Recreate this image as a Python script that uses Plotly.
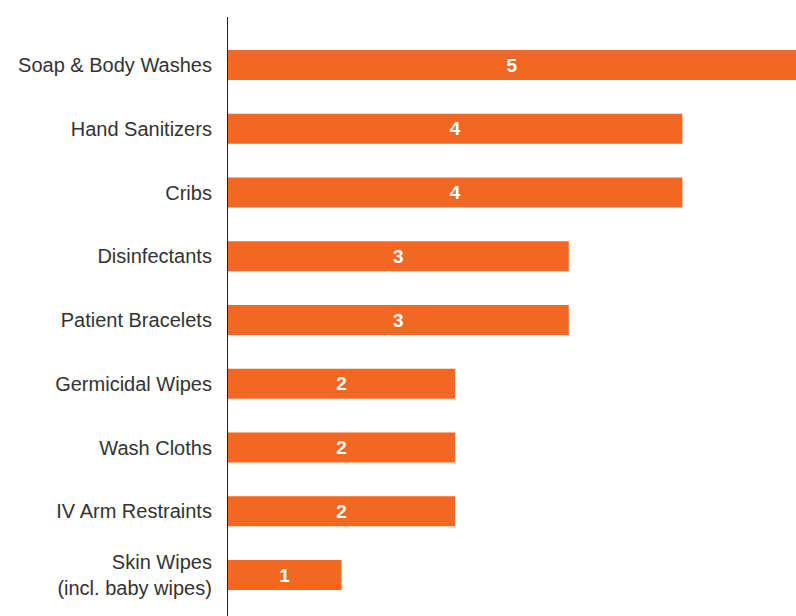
import plotly.graph_objects as go

# Product categories and their counts
categories = [
    "Soap & Body Washes",
    "Hand Sanitizers",
    "Cribs",
    "Disinfectants",
    "Patient Bracelets",
    "Germicidal Wipes",
    "Wash Cloths",
    "IV Arm Restraints",
    "Skin Wipes<br>(incl. baby wipes)",
]
counts = [5, 4, 4, 3, 3, 2, 2, 2, 1]

bar_color = "#F26722"

fig = go.Figure(
    go.Bar(
        x=counts,
        y=categories,
        orientation="h",
        marker=dict(color=bar_color, line=dict(width=0)),
        width=0.47,
        text=[str(v) for v in counts],
        textposition="inside",
        insidetextanchor="middle",
        textangle=0,
        textfont=dict(family="Liberation Sans, Arial, sans-serif", size=19, color="white", weight="bold"),
        cliponaxis=True,
        hoverinfo="skip",
    )
)

fig.update_layout(
    width=796,
    height=616,
    margin=dict(l=228, r=0, t=17, b=0),
    paper_bgcolor="white",
    plot_bgcolor="white",
    showlegend=False,
    uniformtext=dict(minsize=10, mode="show"),
    xaxis=dict(
        range=[0, 5],
        showgrid=False,
        zeroline=False,
        showticklabels=False,
        showline=False,
        fixedrange=True,
    ),
    yaxis=dict(
        type="category",
        categoryorder="array",
        categoryarray=categories,
        range=[8.643, -0.753],
        showgrid=False,
        zeroline=False,
        showline=True,
        linecolor="#222222",
        linewidth=1.2,
        ticks="",
        ticklabelstandoff=11,
        tickfont=dict(family="Liberation Sans, Arial, sans-serif", size=20, color="#333333"),
    ),
)

fig.write_html("out.html")
